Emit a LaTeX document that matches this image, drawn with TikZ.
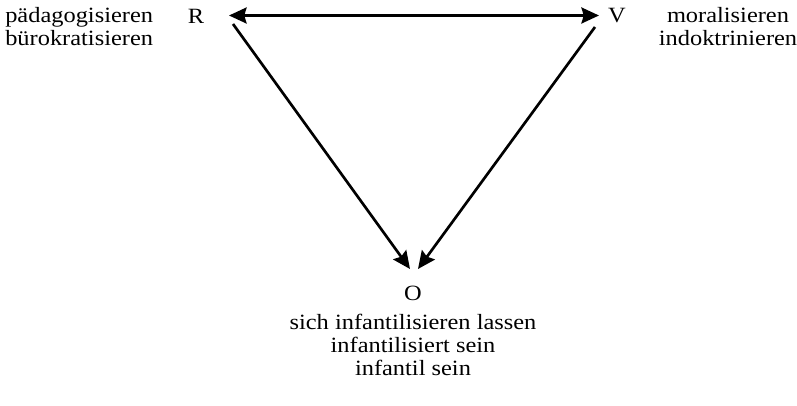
\documentclass[tikz,border=0pt]{standalone}
\usepackage{fontspec}
\setmainfont[FakeStretch=1.12]{Liberation Serif}
\usepackage{tikz}
\usetikzlibrary{arrows.meta,positioning}
\tikzset{
  pole/.style ={inner sep=0pt, font=\fontsize{15.5}{16.4}\selectfont},
  verb/.style ={inner sep=0pt, font=\fontsize{15.5}{16.4}\selectfont},
  tip/.tip    ={Stealth[length=4.4mm,width=4mm,inset=0.6mm]},
  flow/.style ={tip-tip, line width=1.9pt},
  flowO/.style={-tip, line width=1.9pt},
}
\begin{document}
\begin{tikzpicture}[x=0.025cm, y=-0.025cm]
  \useasboundingbox (0,0) rectangle (797,406);
  % Pole des Dreiecks
  \node[pole] (R) at (196,16) {R};
  \node[pole] (V) at (617,16) {V};
  \node[pole] (O) at (413,293) {O};
  \node[verb, anchor=west, align=left]  (rv) at (5,27)    {pädagogisieren\\bürokratisieren};
  \node[verb, align=center]             (vv) at (728,27)  {moralisieren\\indoktrinieren};
  \node[verb, align=center]             (ov) at (413,345) {sich infantilisieren lassen\\infantilisiert sein\\infantil sein};
  % Anschlusspunkte
  \coordinate (rtop)   at (229,15.5);
  \coordinate (vtop)   at (599,15.5);
  \coordinate (rdiag)  at (233,24);
  \coordinate (vdiag)  at (595,27);
  \coordinate (oleft)  at (410,269);
  \coordinate (oright) at (418,269);
  \draw[flow]  (rtop)  -- (vtop);
  \draw[flowO] (rdiag) -- (oleft);
  \draw[flowO] (vdiag) -- (oright);
\end{tikzpicture}
\end{document}
